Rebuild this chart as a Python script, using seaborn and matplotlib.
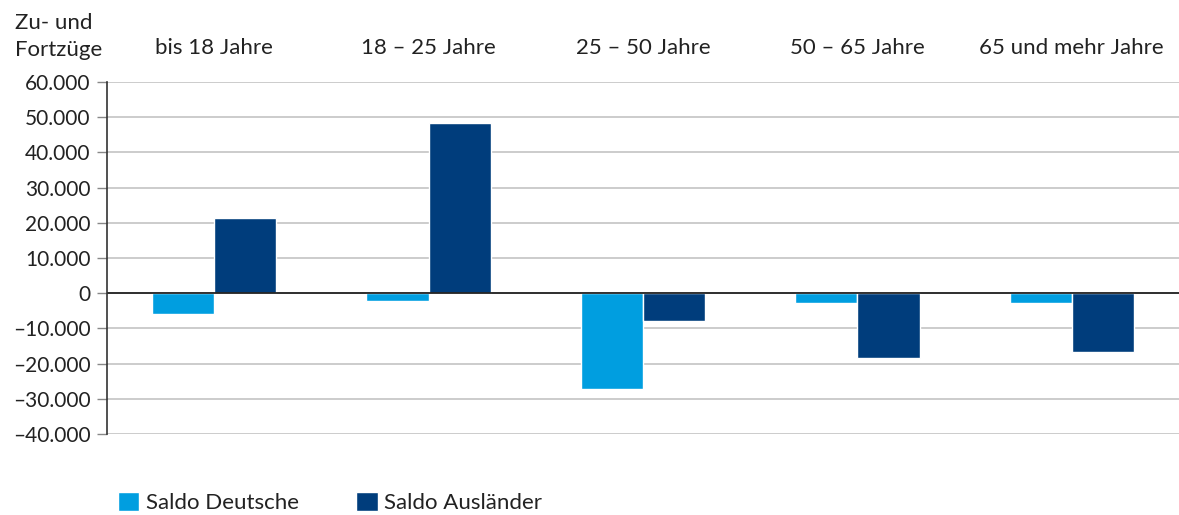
import pandas as pd
import matplotlib
matplotlib.use("Agg")
import matplotlib.pyplot as plt
from matplotlib.ticker import FuncFormatter, MultipleLocator
import seaborn as sns

# Wanderungssaldo nach Altersgruppen
age_groups = ["bis 18 Jahre", "18 – 25 Jahre", "25 – 50 Jahre", "50 – 65 Jahre", "65 und mehr Jahre"]
saldo_deutsche = [-5800, -2200, -27100, -2700, -2700]
saldo_auslaender = [21400, 48300, -7800, -18300, -16600]
series_names = ["Saldo Deutsche", "Saldo Ausländer"]
colors = ["#009ee0", "#003d7c"]

df = pd.DataFrame({
    "gruppe": age_groups * 2,
    "wert": saldo_deutsche + saldo_auslaender,
    "serie": [series_names[0]] * len(age_groups) + [series_names[1]] * len(age_groups),
})

sns.set_style("white")
plt.rcParams["font.family"] = ["Lato", "DejaVu Sans"]
text_color = "#222222"

fig = plt.figure(figsize=(11.79, 5.15), dpi=100)
ax = fig.add_axes([0.0908, 0.1573, 0.9092, 0.6835])

sns.barplot(data=df, x="gruppe", y="wert", hue="serie", palette=colors,
            width=0.58, saturation=1, ax=ax, legend=True)

ax.set_ylim(-40000, 60000)
ax.yaxis.set_major_locator(MultipleLocator(10000))
ax.yaxis.set_major_formatter(FuncFormatter(
    lambda v, p: f"{int(v):,}".replace(",", ".").replace("-", "–")))
ax.grid(axis="y", color="#c4c4c4", linewidth=1.2)
ax.set_axisbelow(True)
ax.axhline(0, color="#222222", linewidth=1.3)

for side in ["top", "right", "bottom"]:
    ax.spines[side].set_visible(False)
ax.spines["left"].set_color("#333333")
ax.spines["left"].set_linewidth(1.2)

ax.tick_params(axis="y", length=7, width=1, color="#888888", labelsize=15,
               labelcolor=text_color, pad=5, left=True)
ax.xaxis.tick_top()
ax.tick_params(axis="x", length=0, labelsize=16, labelcolor=text_color, pad=17)
ax.set_xlabel("")
ax.set_ylabel("")
ax.set_xlim(-0.5, 4.5)

fig.text(0.013, 0.884, "Zu- und\nFortzüge", fontsize=16, color=text_color,
         ha="left", va="bottom", linespacing=1.45)

sns.move_legend(ax, "lower left", bbox_to_anchor=(0.083, -0.035),
                bbox_transform=fig.transFigure, ncol=2, frameon=False, title=None,
                fontsize=16, handlelength=0.95, handleheight=0.95, handletextpad=0.3,
                columnspacing=2.6)
for t in ax.get_legend().get_texts():
    t.set_color(text_color)

fig.savefig("out.png", dpi=100)
